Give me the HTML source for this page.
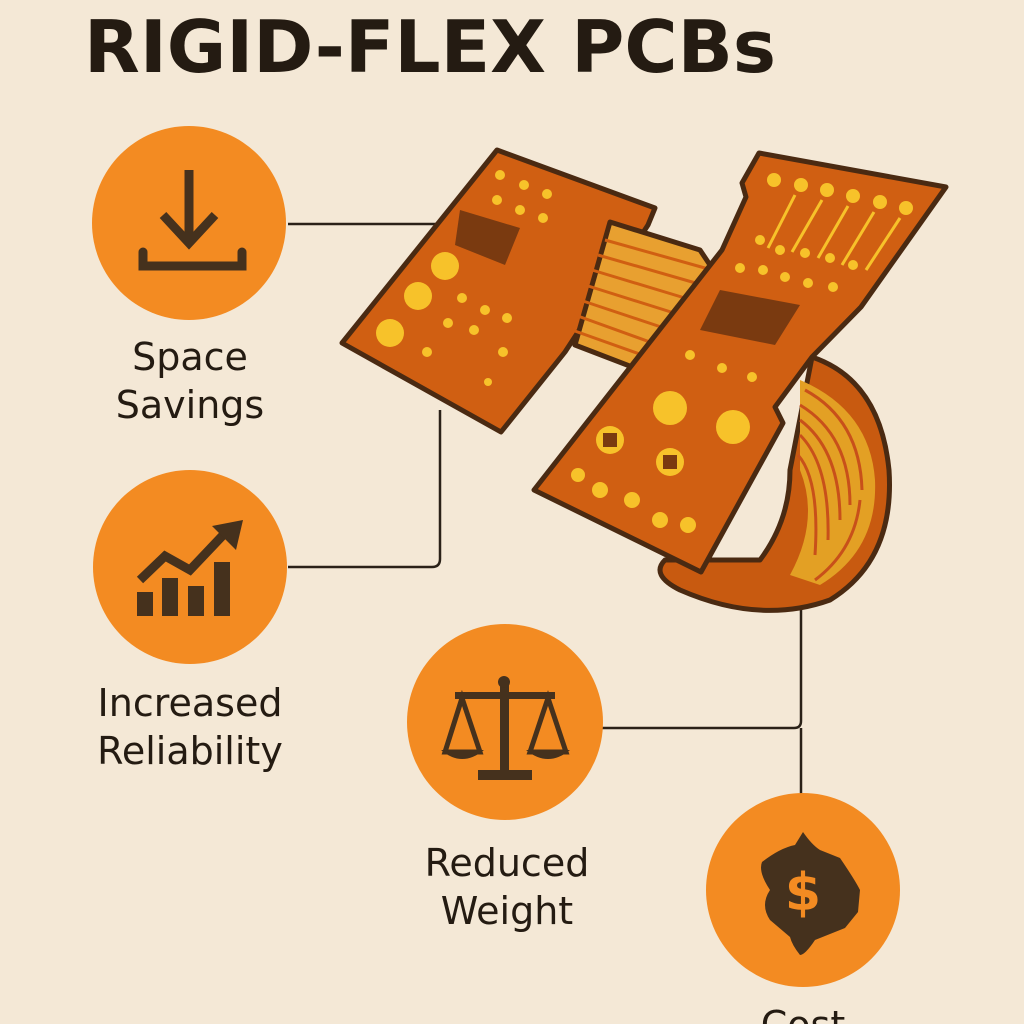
<!DOCTYPE html>
<html><head><meta charset="utf-8"><style>
body{margin:0;width:1024px;height:1024px;overflow:hidden;background:#f4e8d6;}
svg{display:block}
text{font-family:"DejaVu Sans","Liberation Sans",sans-serif;fill:#241b12}
</style></head><body>
<svg width="1024" height="1024" viewBox="0 0 1024 1024">
<rect width="1024" height="1024" fill="#f4e8d6"/>
<text x="84" y="72" font-size="72" font-weight="bold" textLength="692" lengthAdjust="spacingAndGlyphs" font-family="Liberation Sans">RIGID-FLEX PCBs</text>

<!-- connectors -->
<g stroke="#2a2118" stroke-width="2.5" fill="none">
<path d="M288 224 H470"/>
<path d="M288 567 H432 Q440 567 440 559 V410"/>
<path d="M600 728 H794 Q801 728 801 721 V600"/>
<path d="M801 728 V808"/>
</g>

<!-- PCB -->
<g stroke="#4a2a12" stroke-width="5" stroke-linejoin="round">
<!-- loop -->
<path d="M812 357 Q880 380 889 470 Q895 560 830 600 Q760 625 680 590 Q650 575 665 560 L760 560 Q790 520 790 470 Z" fill="#c85a10"/>
<path d="M800 380 Q870 410 875 480 Q878 550 820 585 L790 575 Q820 520 800 470 Z" fill="#e3a024" stroke="none"/>
<g stroke="#c8501a" stroke-width="3" fill="none">
<path d="M805 390 Q860 420 862 490"/><path d="M800 405 Q850 435 850 505"/><path d="M800 420 Q840 450 840 520"/><path d="M800 435 Q830 465 828 540"/><path d="M798 455 Q820 480 815 555"/><path d="M860 500 Q855 550 815 580"/>
</g>
<!-- left board -->
<path d="M497 150 L655 208 L648 225 L565 352 L501 432 L342 343 Z" fill="#d05f12"/>
<!-- ribbon -->
<path d="M610 222 L700 250 L720 280 L640 370 L575 345 Z" fill="#e8a030"/>
<g stroke="#d05f12" stroke-width="3"><line x1="605" y1="240" x2="712" y2="270"/><line x1="598" y1="255" x2="706" y2="286"/><line x1="592" y1="270" x2="698" y2="302"/><line x1="585" y1="285" x2="690" y2="318"/><line x1="580" y1="300" x2="682" y2="334"/><line x1="575" y1="315" x2="672" y2="350"/><line x1="572" y1="330" x2="662" y2="362"/></g>
<!-- right board -->
<path d="M759 153 L946 187 L861 307 L812 357 L775 407 L783 423 L701 572 L534 490 L722 250 L746 197 L742 183 Z" fill="#d05f12"/>
</g>
<g fill="#f7c22a">
<circle cx="500" cy="175" r="5"/><circle cx="524" cy="185" r="5"/><circle cx="547" cy="194" r="5"/><circle cx="497" cy="200" r="5"/><circle cx="520" cy="210" r="5"/><circle cx="543" cy="218" r="5"/>
<circle cx="445" cy="266" r="14"/><circle cx="418" cy="296" r="14"/><circle cx="390" cy="333" r="14"/>
<circle cx="462" cy="298" r="5"/><circle cx="485" cy="310" r="5"/><circle cx="507" cy="318" r="5"/><circle cx="448" cy="323" r="5"/><circle cx="474" cy="330" r="5"/><circle cx="427" cy="352" r="5"/><circle cx="503" cy="352" r="5"/><circle cx="488" cy="382" r="4"/>
<circle cx="774" cy="180" r="7"/><circle cx="801" cy="185" r="7"/><circle cx="827" cy="190" r="7"/><circle cx="853" cy="196" r="7"/><circle cx="880" cy="202" r="7"/><circle cx="906" cy="208" r="7"/>
<circle cx="760" cy="240" r="5"/><circle cx="780" cy="250" r="5"/><circle cx="805" cy="253" r="5"/><circle cx="830" cy="258" r="5"/><circle cx="853" cy="265" r="5"/>
<circle cx="740" cy="268" r="5"/><circle cx="763" cy="270" r="5"/><circle cx="785" cy="277" r="5"/><circle cx="808" cy="283" r="5"/><circle cx="833" cy="287" r="5"/>
<circle cx="690" cy="355" r="5"/><circle cx="722" cy="368" r="5"/><circle cx="752" cy="377" r="5"/>
<circle cx="670" cy="408" r="17"/><circle cx="733" cy="427" r="17"/>
<circle cx="610" cy="440" r="14"/><circle cx="670" cy="462" r="14"/>
<circle cx="578" cy="475" r="7"/><circle cx="600" cy="490" r="8"/><circle cx="632" cy="500" r="8"/><circle cx="660" cy="520" r="8"/><circle cx="688" cy="525" r="8"/>
</g>
<g stroke="#f7c22a" stroke-width="3"><line x1="795" y1="195" x2="768" y2="248"/><line x1="822" y1="200" x2="792" y2="252"/><line x1="848" y1="206" x2="818" y2="258"/><line x1="874" y1="212" x2="842" y2="265"/><line x1="900" y1="218" x2="866" y2="270"/></g>
<g fill="#7a3a10"><path d="M460 210 L520 228 L505 265 L455 245 Z"/><path d="M720 290 L800 305 L775 345 L700 330 Z"/><rect x="603" y="433" width="14" height="14"/><rect x="663" y="455" width="14" height="14"/></g>

<!-- circles -->
<g fill="#f38b22">
<circle cx="189" cy="223" r="97"/><circle cx="190" cy="567" r="97"/><circle cx="505" cy="722" r="98"/><circle cx="803" cy="890" r="97"/>
</g>
<!-- icons -->
<g fill="none" stroke="#45311d" stroke-width="9" stroke-linejoin="miter">
<path d="M189 170 V245"/><path d="M163 215 L189 243 L215 215"/>
<path d="M143 252 V266 H242 V252" stroke-linecap="round"/>
</g>
<g fill="#45311d">
<rect x="137" y="592" width="16" height="24"/><rect x="162" y="578" width="16" height="38"/><rect x="188" y="586" width="16" height="30"/><rect x="214" y="562" width="16" height="54"/>
<path d="M140 580 L165 556 L190 570 L226 532" fill="none" stroke="#45311d" stroke-width="9"/>
<path d="M212 526 L243 520 L236 550 Z"/>
<rect x="500" y="682" width="9" height="90"/><circle cx="504" cy="682" r="6"/>
<rect x="455" y="692" width="100" height="7"/><rect x="478" y="770" width="54" height="10"/>
<path d="M445 752 L462 698 L480 752 Z" fill="none" stroke="#45311d" stroke-width="5"/><path d="M441 750 H484 Q462 768 441 750Z"/>
<path d="M530 752 L548 698 L566 752 Z" fill="none" stroke="#45311d" stroke-width="5"/><path d="M526 750 H570 Q548 768 526 750Z"/>
<path d="M803 832 Q812 845 820 850 L840 858 Q855 880 860 890 L858 912 L845 928 L815 940 Q805 955 800 955 Q792 945 790 937 L770 920 Q760 905 770 890 Q758 872 762 862 Q780 848 795 845 Z"/>
</g>
<text x="803" y="910" font-size="52" font-weight="bold" text-anchor="middle" style="fill:#f38b22">$</text>

<g font-size="38" text-anchor="middle">
<text x="190" y="370">Space</text><text x="190" y="418">Savings</text>
<text x="190" y="716">Increased</text><text x="190" y="764">Reliability</text>
<text x="507" y="876">Reduced</text><text x="507" y="924">Weight</text>
<text x="803" y="1038">Cost</text>
</g>
</svg>
</body></html>
